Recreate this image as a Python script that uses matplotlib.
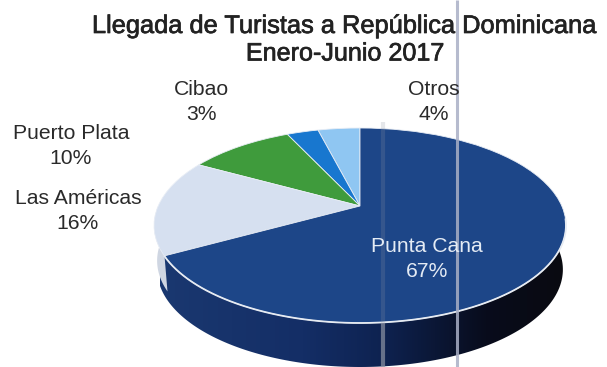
import numpy as np
import matplotlib
matplotlib.use('Agg')
import matplotlib.pyplot as plt
import matplotlib.patheffects as pe
from matplotlib.transforms import Transform
from matplotlib.path import Path
from matplotlib.patches import PathPatch

plt.rcParams['font.family'] = ['Liberation Sans', 'DejaVu Sans']

# data, anticlockwise from 12 o'clock
regions = ['Otros', 'Cibao', 'Puerto Plata', 'Las Américas', 'Punta Cana']
shares = [4, 3, 10, 16, 67]
colors = ['#8fc6f2', '#1877cf', '#3f9b3c', '#d6e0f0', '#1d4688']
title_lines = ['Llegada de Turistas a República Dominicana', 'Enero-Junio 2017']

# perspective of the scanned 3D pie, in pixels
CX, CY = 360, 206
BX, BY = 201.8, 93.6
K = 0.2
DEPTH = 44


class Tilt(Transform):
    # maps the unit pie onto the tilted disc
    input_dims = 2
    output_dims = 2

    def transform_non_affine(self, xy):
        xy = np.asarray(xy)
        w = 1 + K * xy[:, 1]
        return np.column_stack([CX + BX * xy[:, 0] / w, CY - BY * xy[:, 1] / w])


fig = plt.figure(figsize=(6.07, 3.67), dpi=100)
ax = fig.add_axes([0, 0, 1, 1])
tilt = Tilt()

# side wall first, under the top face
t = np.radians(np.linspace(180, 360, 200))
rim = tilt.transform_non_affine(np.column_stack([np.cos(t), np.sin(t)]))
low = rim * [0.985, 1] + [360 * 0.015, DEPTH]
wall = np.vstack([rim, low[::-1]])
wall_path = Path(np.vstack([wall, wall[0]]), closed=True)

stops = np.array([[0x1a, 0x38, 0x70], [0x14, 0x2e, 0x66], [0x0e, 0x22, 0x50], [0x08, 0x0c, 0x1c], [0x0a, 0x0a, 0x10]]) / 255
pos = [0, 0.35, 0.55, 0.8, 1]
grad = np.column_stack([np.interp(np.linspace(0, 1, 256), pos, stops[:, i]) for i in range(3)])[None, :, :]
im = ax.imshow(grad, extent=[160, 568, 367, 220], aspect='auto', zorder=1)
clip = PathPatch(wall_path, transform=ax.transData, fc='none', ec='none')
ax.add_patch(clip)
im.set_clip_path(clip)

# pale wall under the Las Américas slice
left = np.radians(np.linspace(180, 209, 30))
pale = tilt.transform_non_affine(np.column_stack([np.cos(left), np.sin(left)]))
pale_low = pale * [0.985, 1] + [360 * 0.015, DEPTH * 0.8]
ax.fill(np.r_[pale[:, 0], pale_low[::-1, 0]], np.r_[pale[:, 1], pale_low[::-1, 1]], color='#cfd6e2', lw=0, zorder=1.5)

# top face
wedges, _ = ax.pie(shares, colors=colors, startangle=90, counterclock=True, radius=1,
                   wedgeprops=dict(edgecolor='#e8edf5', linewidth=0.6))
for w in wedges:
    w.set_transform(tilt + ax.transData)
    w.set_zorder(2)

# pale edge along the front of the rim
front = np.radians(np.linspace(209, 352, 150))
edge = tilt.transform_non_affine(np.column_stack([np.cos(front), np.sin(front)]))
ax.plot(edge[:, 0], edge[:, 1], color='#e6ebf2', lw=1.3, zorder=2.5)

ax.set_aspect('auto')
ax.set_xlim(0, 607)
ax.set_ylim(367, 0)
ax.axis('off')

# scanner streaks, faint on the blue face and stronger on the wall
ax.plot([383, 383], [122, 323], color='#8d93a3', lw=3, alpha=0.22, zorder=3, solid_capstyle='butt')
ax.plot([383, 383], [323, 367], color='#8d93a3', lw=3, alpha=0.7, zorder=3, solid_capstyle='butt')
ax.plot([457, 457], [0, 367], color='#a9afc6', lw=2.2, alpha=0.85, zorder=3, solid_capstyle='butt')

stroke = [pe.withStroke(linewidth=0.5, foreground='#222222')]
ax.text(345, 33, title_lines[0], ha='center', va='baseline', fontsize=18.3, color='#222222',
        path_effects=stroke, zorder=4)
ax.text(345, 60.5, title_lines[1], ha='center', va='baseline', fontsize=18.1, color='#222222',
        path_effects=stroke, zorder=4)

labels = [(434, 102), (201, 102), (71, 146), (78, 211)]
for (x, y), name, v in zip(labels, regions, shares):
    ax.text(x, y, f'{name}\n{v}%', ha='center', va='center', fontsize=15.2, color='#2a2a2a',
            linespacing=1.35, zorder=4)
ax.text(427, 259, f'{regions[4]}\n{shares[4]}%', ha='center', va='center', fontsize=15.2,
        color='#e4ebf4', linespacing=1.35, zorder=4)

fig.savefig('out.png', dpi=100)
